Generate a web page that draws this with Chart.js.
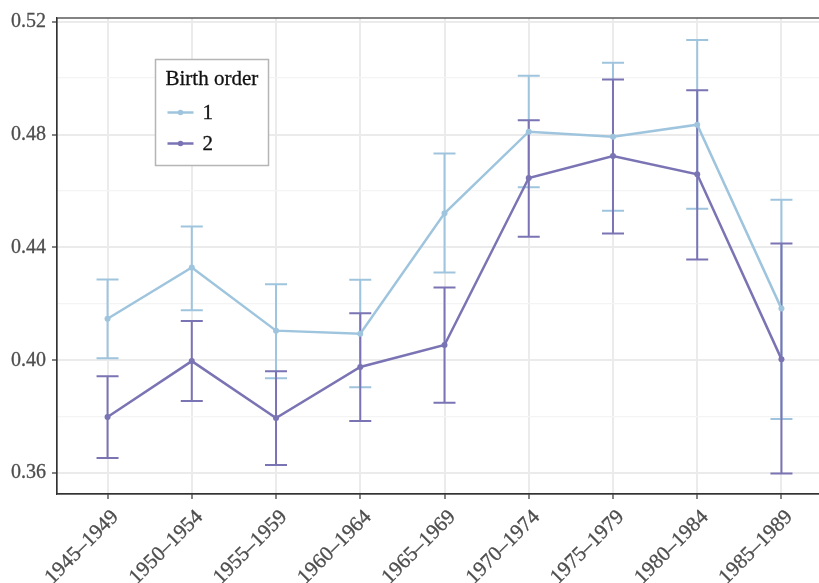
<!DOCTYPE html>
<html>
<head>
<meta charset="utf-8">
<script src="https://cdn.jsdelivr.net/npm/chart.js@4/dist/chart.umd.min.js"></script>
<style>
  html, body { margin: 0; padding: 0; background: #fff; overflow: hidden; }
  #wrap { width: 836px; height: 583px; }
</style>
</head>
<body>
<div id="wrap"><canvas id="c" width="836" height="583"></canvas></div>
<script>
// Birth cohorts on the x axis
const cohorts = ['1945–1949', '1950–1954', '1955–1959', '1960–1964', '1965–1969',
                 '1970–1974', '1975–1979', '1980–1984', '1985–1989'];

// Birth order 1: estimate with lower / upper bounds
const order1Mean  = [0.4147, 0.4329, 0.4105, 0.4094, 0.4521, 0.4810, 0.4792, 0.4835, 0.4183];
const order1Lower = [0.4007, 0.4177, 0.3936, 0.3904, 0.4311, 0.4613, 0.4530, 0.4537, 0.3792];
const order1Upper = [0.4286, 0.4474, 0.4269, 0.4285, 0.4733, 0.5008, 0.5054, 0.5135, 0.4569];

// Birth order 2: estimate with lower / upper bounds
const order2Mean  = [0.3799, 0.3997, 0.3795, 0.3976, 0.4054, 0.4646, 0.4724, 0.4659, 0.4004];
const order2Lower = [0.3654, 0.3856, 0.3629, 0.3785, 0.3849, 0.4438, 0.4449, 0.4357, 0.3599];
const order2Upper = [0.3943, 0.4139, 0.3961, 0.4167, 0.4258, 0.4851, 0.4995, 0.4957, 0.4414];

// Y ticks (every 0.02, labelled every 0.04)
const yTicks = [0.36, 0.38, 0.40, 0.42, 0.44, 0.46, 0.48, 0.50, 0.52];
const yLabelled = [0.36, 0.40, 0.44, 0.48, 0.52];

const seriesNames = ['1', '2'];
const colors = ['#9fc5de', '#7a74b4'];
const FONT = '"Liberation Serif", "DejaVu Serif", serif';

const isLabelled = v => yLabelled.some(t => Math.abs(t - v) < 1e-6);

function points(values) {
  return values.map((v, i) => ({ x: i, y: v }));
}

const bounds = [
  { lower: order1Lower, upper: order1Upper },
  { lower: order2Lower, upper: order2Upper }
];

// Error bars with caps, drawn under the lines
const errorBars = {
  id: 'errorBars',
  beforeDatasetsDraw(chart) {
    const ctx = chart.ctx;
    const ys = chart.scales.y;
    chart.data.datasets.forEach((ds, di) => {
      const meta = chart.getDatasetMeta(di);
      const b = bounds[di];
      ctx.save();
      ctx.strokeStyle = ds.borderColor;
      ctx.lineWidth = 2;
      meta.data.forEach((pt, i) => {
        const x = pt.x;
        const yl = ys.getPixelForValue(b.lower[i]);
        const yu = ys.getPixelForValue(b.upper[i]);
        const cap = 11;
        ctx.beginPath();
        ctx.moveTo(x, yl); ctx.lineTo(x, yu);
        ctx.moveTo(x - cap, yl); ctx.lineTo(x + cap, yl);
        ctx.moveTo(x - cap, yu); ctx.lineTo(x + cap, yu);
        ctx.stroke();
      });
      ctx.restore();
    });
  }
};

// Panel frame and the boxed legend inside the plot
const frameAndLegend = {
  id: 'frameAndLegend',
  afterDraw(chart) {
    const ctx = chart.ctx;
    const a = chart.chartArea;
    ctx.save();
    ctx.strokeStyle = '#333333';
    ctx.lineWidth = 1.2;
    ctx.strokeRect(a.left, a.top, a.right - a.left, a.bottom - a.top);

    // legend box
    const lx = 155.5, ly = 59.5, lw = 113, lh = 106;
    ctx.fillStyle = '#ffffff';
    ctx.fillRect(lx, ly, lw, lh);
    ctx.strokeStyle = '#b5b5b5';
    ctx.lineWidth = 1.5;
    ctx.strokeRect(lx, ly, lw, lh);

    ctx.font = '21px ' + FONT;
    ctx.textBaseline = 'middle';
    ctx.textAlign = 'left';
    ctx.fillStyle = '#111111';
    ctx.strokeStyle = '#111111';
    ctx.lineWidth = 0.3;
    ctx.fillText('Birth order', lx + 10, ly + 20);
    ctx.strokeText('Birth order', lx + 10, ly + 20);

    chart.data.datasets.forEach((ds, i) => {
      const yy = ly + 53 + i * 31;
      ctx.strokeStyle = ds.borderColor;
      ctx.lineWidth = 2.5;
      ctx.beginPath();
      ctx.moveTo(lx + 12, yy); ctx.lineTo(lx + 38, yy);
      ctx.stroke();
      ctx.fillStyle = ds.borderColor;
      ctx.beginPath();
      ctx.arc(lx + 25, yy, 2.8, 0, Math.PI * 2);
      ctx.fill();
      ctx.fillStyle = '#111111';
      ctx.strokeStyle = '#111111';
      ctx.lineWidth = 0.3;
      ctx.fillText(ds.label, lx + 47, yy + 1);
      ctx.strokeText(ds.label, lx + 47, yy + 1);
    });
    ctx.restore();
  }
};

new Chart(document.getElementById('c'), {
  type: 'line',
  data: {
    datasets: [
      { label: seriesNames[0], data: points(order1Mean), borderColor: colors[0], backgroundColor: colors[0],
        borderWidth: 2.5, pointRadius: 3, pointBorderWidth: 0, tension: 0 },
      { label: seriesNames[1], data: points(order2Mean), borderColor: colors[1], backgroundColor: colors[1],
        borderWidth: 2.5, pointRadius: 3, pointBorderWidth: 0, tension: 0 }
    ]
  },
  options: {
    responsive: false,
    animation: false,
    layout: { padding: { top: 17, right: 0, left: 0, bottom: 0 } },
    plugins: { legend: { display: false }, tooltip: { enabled: false } },
    scales: {
      x: {
        type: 'linear',
        min: -0.6,
        max: 8.6,
        afterBuildTicks(scale) { scale.ticks = cohorts.map((_, i) => ({ value: i })); },
        afterFit(scale) { scale.height = 89; scale.paddingLeft = 0; scale.paddingRight = 0; },
        ticks: {
          autoSkip: false,
          maxRotation: 45,
          minRotation: 45,
          color: '#4d4d4d',
          textStrokeColor: '#4d4d4d',
          textStrokeWidth: 0.3,
          font: { family: FONT, size: 21 },
          padding: 6,
          labelOffset: 8,
          callback: v => cohorts[v]
        },
        grid: {
          color: '#ebebeb',
          lineWidth: 2,
          tickColor: '#333333',
          tickLength: 5,
          tickWidth: 1.2
        },
        border: { display: true, color: '#333333', width: 1.2 }
      },
      y: {
        min: 0.3526,
        max: 0.5213,
        afterBuildTicks(scale) { scale.ticks = yTicks.map(v => ({ value: v })); },
        afterFit(scale) { scale.width = 57; },
        ticks: {
          color: '#4d4d4d',
          textStrokeColor: '#4d4d4d',
          textStrokeWidth: 0.3,
          font: { family: FONT, size: 20 },
          padding: 6,
          callback: v => isLabelled(v) ? v.toFixed(2) : ''
        },
        grid: {
          color: c => isLabelled(c.tick.value) ? '#ebebeb' : '#f4f4f4',
          lineWidth: c => isLabelled(c.tick.value) ? 2 : 1.2,
          tickColor: c => isLabelled(c.tick.value) ? '#333333' : 'rgba(0,0,0,0)',
          tickLength: 5,
          tickWidth: 1.2
        },
        border: { display: true, color: '#333333', width: 1.2 }
      }
    }
  },
  plugins: [errorBars, frameAndLegend]
});
</script>
</body>
</html>
